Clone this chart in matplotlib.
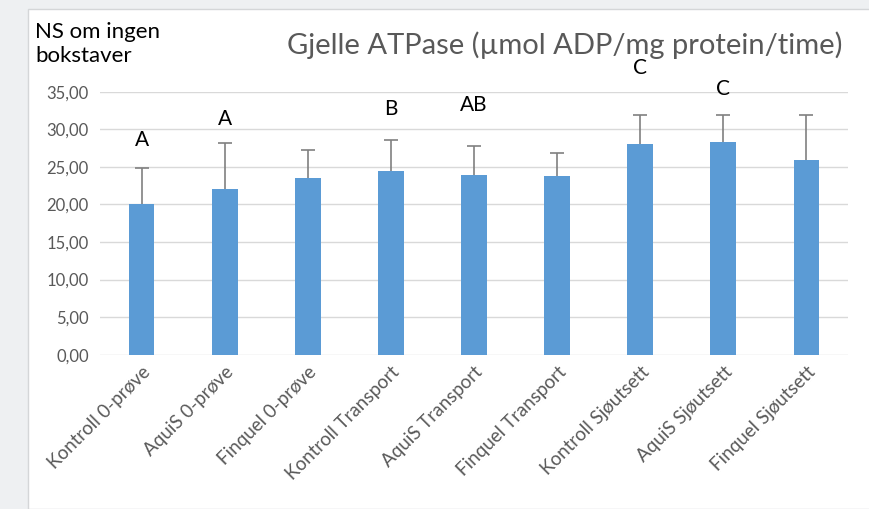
# -*- coding: utf8
'''
Gill ATPase activity per group, bars with upper error bars and
significance letters.
'''
from matplotlib import pyplot as plt
from matplotlib.patches import Rectangle
from matplotlib.ticker import FuncFormatter

groups = ['Kontroll 0-prøve', 'AquiS 0-prøve', 'Finquel 0-prøve',
          'Kontroll Transport', 'AquiS Transport', 'Finquel Transport',
          'Kontroll Sjøutsett', 'AquiS Sjøutsett', 'Finquel Sjøutsett']
means = [20.0, 22.1, 23.45, 24.4, 23.95, 23.8, 28.1, 28.35, 25.9]
err_up = [4.8, 6.1, 3.75, 4.2, 3.85, 3.0, 3.85, 3.6, 6.05]

letters = ['A', 'A', '', 'B', 'AB', '', 'C', 'C', '']
letter_y = [28.6, 31.4, 0, 32.7, 33.2, 0, 38.2, 35.3, 0]

plt.rcParams['font.family'] = ['Lato', 'DejaVu Sans']

fig = plt.figure(figsize=(8.7, 5.09), dpi=100, facecolor='#eef0f2')
fig.patches.append(Rectangle((28 / 870, 0), 1, 1 - 9 / 509,
                             transform=fig.transFigure, facecolor='white',
                             edgecolor='#d4d6d8', lw=1, zorder=-5))
ax = fig.add_axes([100 / 870, 1 - 354.7 / 509, 748 / 870, 263 / 509])
ax.set_facecolor('none')

x = list(range(len(groups)))
tops = [m + e for m, e in zip(means, err_up)]
ax.bar(x, means, width=0.31, color='#5b9bd5', zorder=2)
ax.vlines(x, means, tops, color='#808080', lw=1.2, zorder=3)
ax.plot(x, tops, ls='none', marker='_', ms=10, mew=1.2, color='#808080',
        zorder=3)

for i, lab in enumerate(letters):
    if lab:
        ax.text(i, letter_y[i], lab, ha='center', va='center',
                fontsize=15, color='black', clip_on=False)

ax.set_xlim(-0.5, len(groups) - 0.5)
ax.set_ylim(0, 35)
ax.set_yticks(range(0, 36, 5))
ax.yaxis.set_major_formatter(FuncFormatter(lambda v, p: ('%.2f' % v).replace('.', ',')))
ax.grid(axis='y', color='#d9d9d9', lw=1, zorder=0)
for s in ax.spines.values():
    s.set_visible(False)
ax.tick_params(axis='y', length=0, labelsize=12, colors='#595959', pad=8)
ax.tick_params(axis='x', length=0, labelsize=13.5, colors='#595959', pad=6)
ax.set_xticks(x)
ax.set_xticklabels(groups, rotation=45, ha='right', rotation_mode='anchor')

fig.text(565 / 870, 1 - 45 / 509, 'Gjelle ATPase (µmol ADP/mg protein/time)',
         ha='center', va='center', fontsize=21, color='#595959')
fig.text(35 / 870, 1 - 44 / 509, 'NS om ingen\nbokstaver', ha='left',
         va='center', fontsize=16, color='black', linespacing=1.25)

fig.savefig('out.png', dpi=100, facecolor=fig.get_facecolor())
